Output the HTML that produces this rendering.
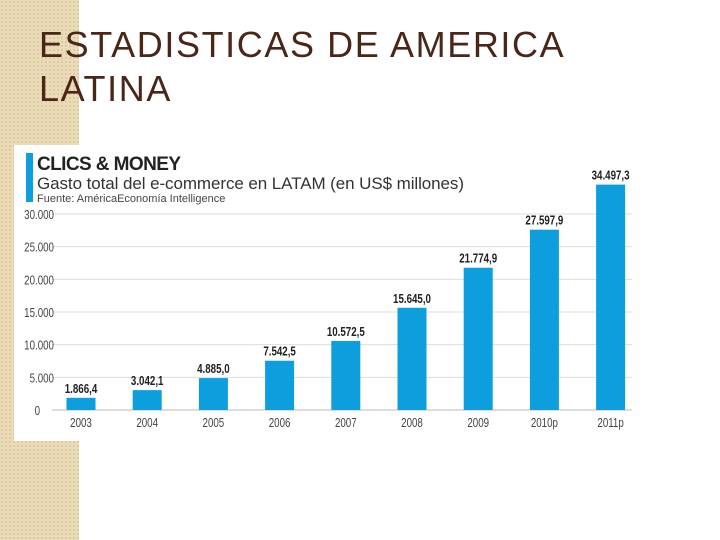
<!DOCTYPE html>
<html><head><meta charset="utf-8"><style>
body{margin:0;width:720px;height:540px;position:relative;background:#fff;overflow:hidden;font-family:"Liberation Sans",sans-serif}
#strip{position:absolute;left:0;top:0;width:79px;height:540px;background:#eadcb9;background-image:radial-gradient(#dcc9a0 1px,transparent 1.2px);background-size:4px 4px}
#title{position:absolute;left:39px;top:23px;font-size:36px;line-height:44px;color:#4a2618;letter-spacing:1.6px}
</style></head><body>
<div id="strip"></div>
<div id="title">ESTADISTICAS DE AMERICA<br>LATINA</div>
<svg id="chart" style="position:absolute;left:0;top:0" width="720" height="540">
<rect x="14" y="145" width="627" height="296" fill="#fff"/>
<rect x="26" y="153" width="7" height="49" fill="#0d9ede"/>
<text x="37" y="170" font-size="19" font-weight="bold" fill="#222" textLength="144">CLICS &amp; MONEY</text>
<text x="37" y="189" font-size="17" fill="#333" textLength="427">Gasto total del e-commerce en LATAM (en US$ millones)</text>
<text x="37" y="202" font-size="11" fill="#444">Fuente: AméricaEconomía Intelligence</text>
<g id="grid"></g><g id="bars"></g>
</svg>
<script>
const categories=["2003","2004","2005","2006","2007","2008","2009","2010p","2011p"];
const values=[1866.4,3042.1,4885.0,7542.5,10572.5,15645.0,21774.9,27597.9,34497.3];
const valueLabels=["1.866,4","3.042,1","4.885,0","7.542,5","10.572,5","15.645,0","21.774,9","27.597,9","34.497,3"];
const ticks=[0,5000,10000,15000,20000,25000,30000];
const tickLabels=["0","5.000","10.000","15.000","20.000","25.000","30.000"];
const NS="http://www.w3.org/2000/svg";
const y0=410,k=196/30000;
const y=v=>y0-v*k;
const x=i=>81+i*66.2;
function mk(t,a,txt){const e=document.createElementNS(NS,t);for(const n in a)e.setAttribute(n,a[n]);if(txt!=null)e.textContent=txt;return e;}
const g=document.getElementById('grid'),b=document.getElementById('bars');
ticks.forEach((t,i)=>{
 const l=mk('line',{x1:52,x2:632,y1:y(t),y2:y(t),stroke:i?'#ddd':'#bbb','stroke-width':1});
 
 
 g.appendChild(l);
 const ax=i?54:40;
 const tx=mk('text',{x:ax,y:y(t)+5,'text-anchor':'end','font-size':13,fill:'#444',transform:`translate(${ax},0) scale(0.75,1) translate(${-ax},0)`},tickLabels[i]);
 
 
 g.appendChild(tx);
});
values.forEach((v,i)=>{
 const r=mk('rect',{x:x(i)-14.5,y:y(v),width:29,height:y0-y(v),fill:'#0d9ede'});
 
 
 b.appendChild(r);
 const lb=mk('text',{x:x(i),y:y(v)-5,'text-anchor':'middle','font-size':13,'font-weight':'bold',fill:'#222',transform:`translate(${x(i)},0) scale(0.75,1) translate(${-x(i)},0)`},valueLabels[i]);
 
 
 b.appendChild(lb);
 const c=mk('text',{x:x(i),y:427,'text-anchor':'middle','font-size':13,fill:'#444',transform:`translate(${x(i)},0) scale(0.75,1) translate(${-x(i)},0)`},categories[i]);
 
 
 b.appendChild(c);
});
</script>
</body></html>
